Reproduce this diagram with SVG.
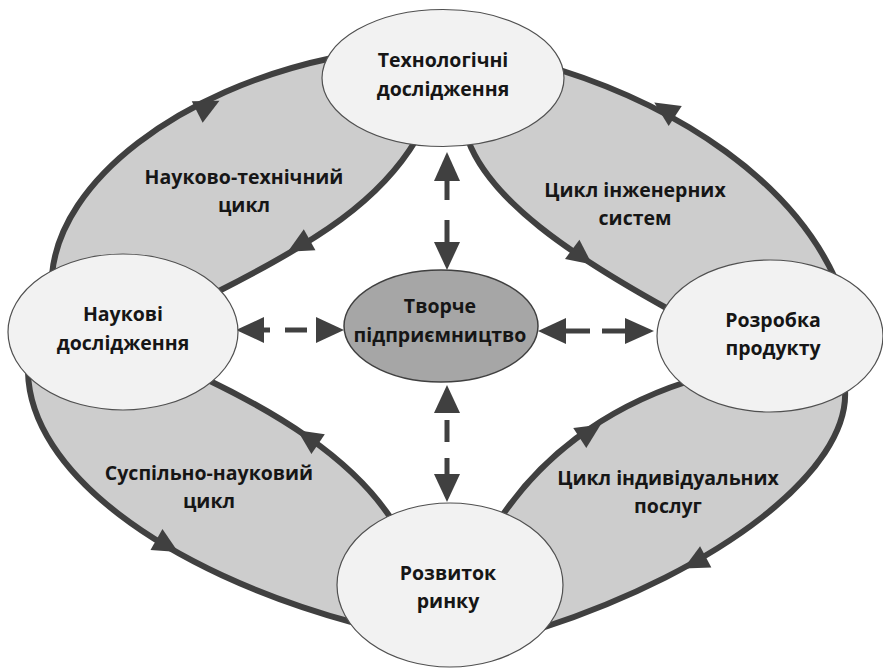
<svg xmlns="http://www.w3.org/2000/svg" xmlns:xlink="http://www.w3.org/1999/xlink" width="883" height="670" viewBox="0 0 883 670">
  <style>
    .lens { fill: #cdcdcd; stroke: #404040; stroke-width: 6; stroke-linejoin: round; }
    .node { fill: #f2f2f2; stroke: #505050; stroke-width: 1.2; }
    .hub { fill: #a6a6a6; stroke: #404040; stroke-width: 1.5; }
    .dash { stroke: #404040; stroke-width: 5; fill: none; }
    .head { fill: #404040; }
    text { font-family: "Open Sans", "Noto Sans", "DejaVu Sans", sans-serif; font-weight: bold; font-size: 19.5px; fill: #161616; text-anchor: middle; }
  </style>
  <defs>
    <path id="tri" d="M14,0 L-11,-12 L-11,12 Z" fill="#404040"/>
  </defs>
  <rect width="883" height="670" fill="#ffffff"/>

  <!-- cycle loops -->
  <g id="cycles">
    <path class="lens" d="M52,275 C60,180 180,90 332,58 L416,140 C380,200 320,240 215,293 Z"/>
    <path class="lens" d="M560,70 C680,108 790,180 835,278 L670,310 C570,255 490,200 468,140 Z"/>
    <path class="lens" d="M28,372 C30,470 160,570 355,623 L392,520 C350,455 270,410 208,380 Z"/>
    <path class="lens" d="M845,390 C850,470 720,570 542,628 L502,516 C540,460 600,410 686,382 Z"/>
  </g>

  <!-- direction marks on the loops -->
  <g id="cycle-arrows">
    <use xlink:href="#tri" transform="translate(207,107) rotate(-27)"/>
    <use xlink:href="#tri" transform="translate(300,245) rotate(151)"/>
    <use xlink:href="#tri" transform="translate(666,110) rotate(-147)"/>
    <use xlink:href="#tri" transform="translate(581,256) rotate(37)"/>
    <use xlink:href="#tri" transform="translate(166,545) rotate(30)"/>
    <use xlink:href="#tri" transform="translate(309,438) rotate(-146)"/>
    <use xlink:href="#tri" transform="translate(696,562) rotate(152)"/>
    <use xlink:href="#tri" transform="translate(589,432) rotate(-33)"/>
  </g>

  <!-- dashed two-way links to the hub -->
  <g id="connectors">
    <!-- top -->
    <polygon class="head" points="447,152 434,181 460,181"/>
    <line class="dash" x1="447" y1="180" x2="447" y2="200"/>
    <line class="dash" x1="447" y1="220" x2="447" y2="244"/>
    <polygon class="head" points="447,270 434,242 460,242"/>
    <!-- bottom -->
    <polygon class="head" points="447,385 434,413 460,413"/>
    <line class="dash" x1="447" y1="420" x2="447" y2="442"/>
    <line class="dash" x1="447" y1="458" x2="447" y2="476"/>
    <polygon class="head" points="447,502 434,474 460,474"/>
    <!-- left -->
    <polygon class="head" points="236,330 264,317 264,343"/>
    <line class="dash" x1="262" y1="330" x2="270" y2="330"/>
    <line class="dash" x1="285" y1="330" x2="307" y2="330"/>
    <polygon class="head" points="344,330 316,317 316,343"/>
    <!-- right -->
    <polygon class="head" points="538,331 566,318 566,344"/>
    <line class="dash" x1="564" y1="331" x2="590" y2="331"/>
    <line class="dash" x1="602" y1="331" x2="627" y2="331"/>
    <polygon class="head" points="654,331 625,318 625,344"/>
  </g>

  <!-- loop labels -->
  <g id="labels">
    <text x="244" y="184">Науково-технічний</text>
    <text x="244" y="212">цикл</text>
    <text x="635" y="197">Цикл інженерних</text>
    <text x="635" y="225">систем</text>
    <text x="209" y="480">Суспільно-науковий</text>
    <text x="209" y="508">цикл</text>
    <text x="668" y="485">Цикл індивідуальних</text>
    <text x="668" y="513">послуг</text>
  </g>

  <g id="tech-research">
    <ellipse class="node" cx="443" cy="78" rx="121" ry="68.5"/>
    <text x="443" y="67">Технологічні</text>
    <text x="443" y="96">дослідження</text>
  </g>

  <g id="science-research">
    <ellipse class="node" cx="123" cy="332" rx="115" ry="78"/>
    <text x="123" y="321">Наукові</text>
    <text x="123" y="350">дослідження</text>
  </g>

  <g id="product-development">
    <ellipse class="node" cx="770" cy="336" rx="113" ry="76"/>
    <text x="773" y="327">Розробка</text>
    <text x="773" y="355">продукту</text>
  </g>

  <g id="market-development">
    <ellipse class="node" cx="450" cy="585" rx="113" ry="82"/>
    <text x="448" y="580">Розвиток</text>
    <text x="448" y="608">ринку</text>
  </g>

  <g id="creative-entrepreneurship">
    <ellipse class="hub" cx="441" cy="326" rx="97" ry="56"/>
    <text x="440" y="313">Творче</text>
    <text x="440" y="342">підприємництво</text>
  </g>
</svg>
